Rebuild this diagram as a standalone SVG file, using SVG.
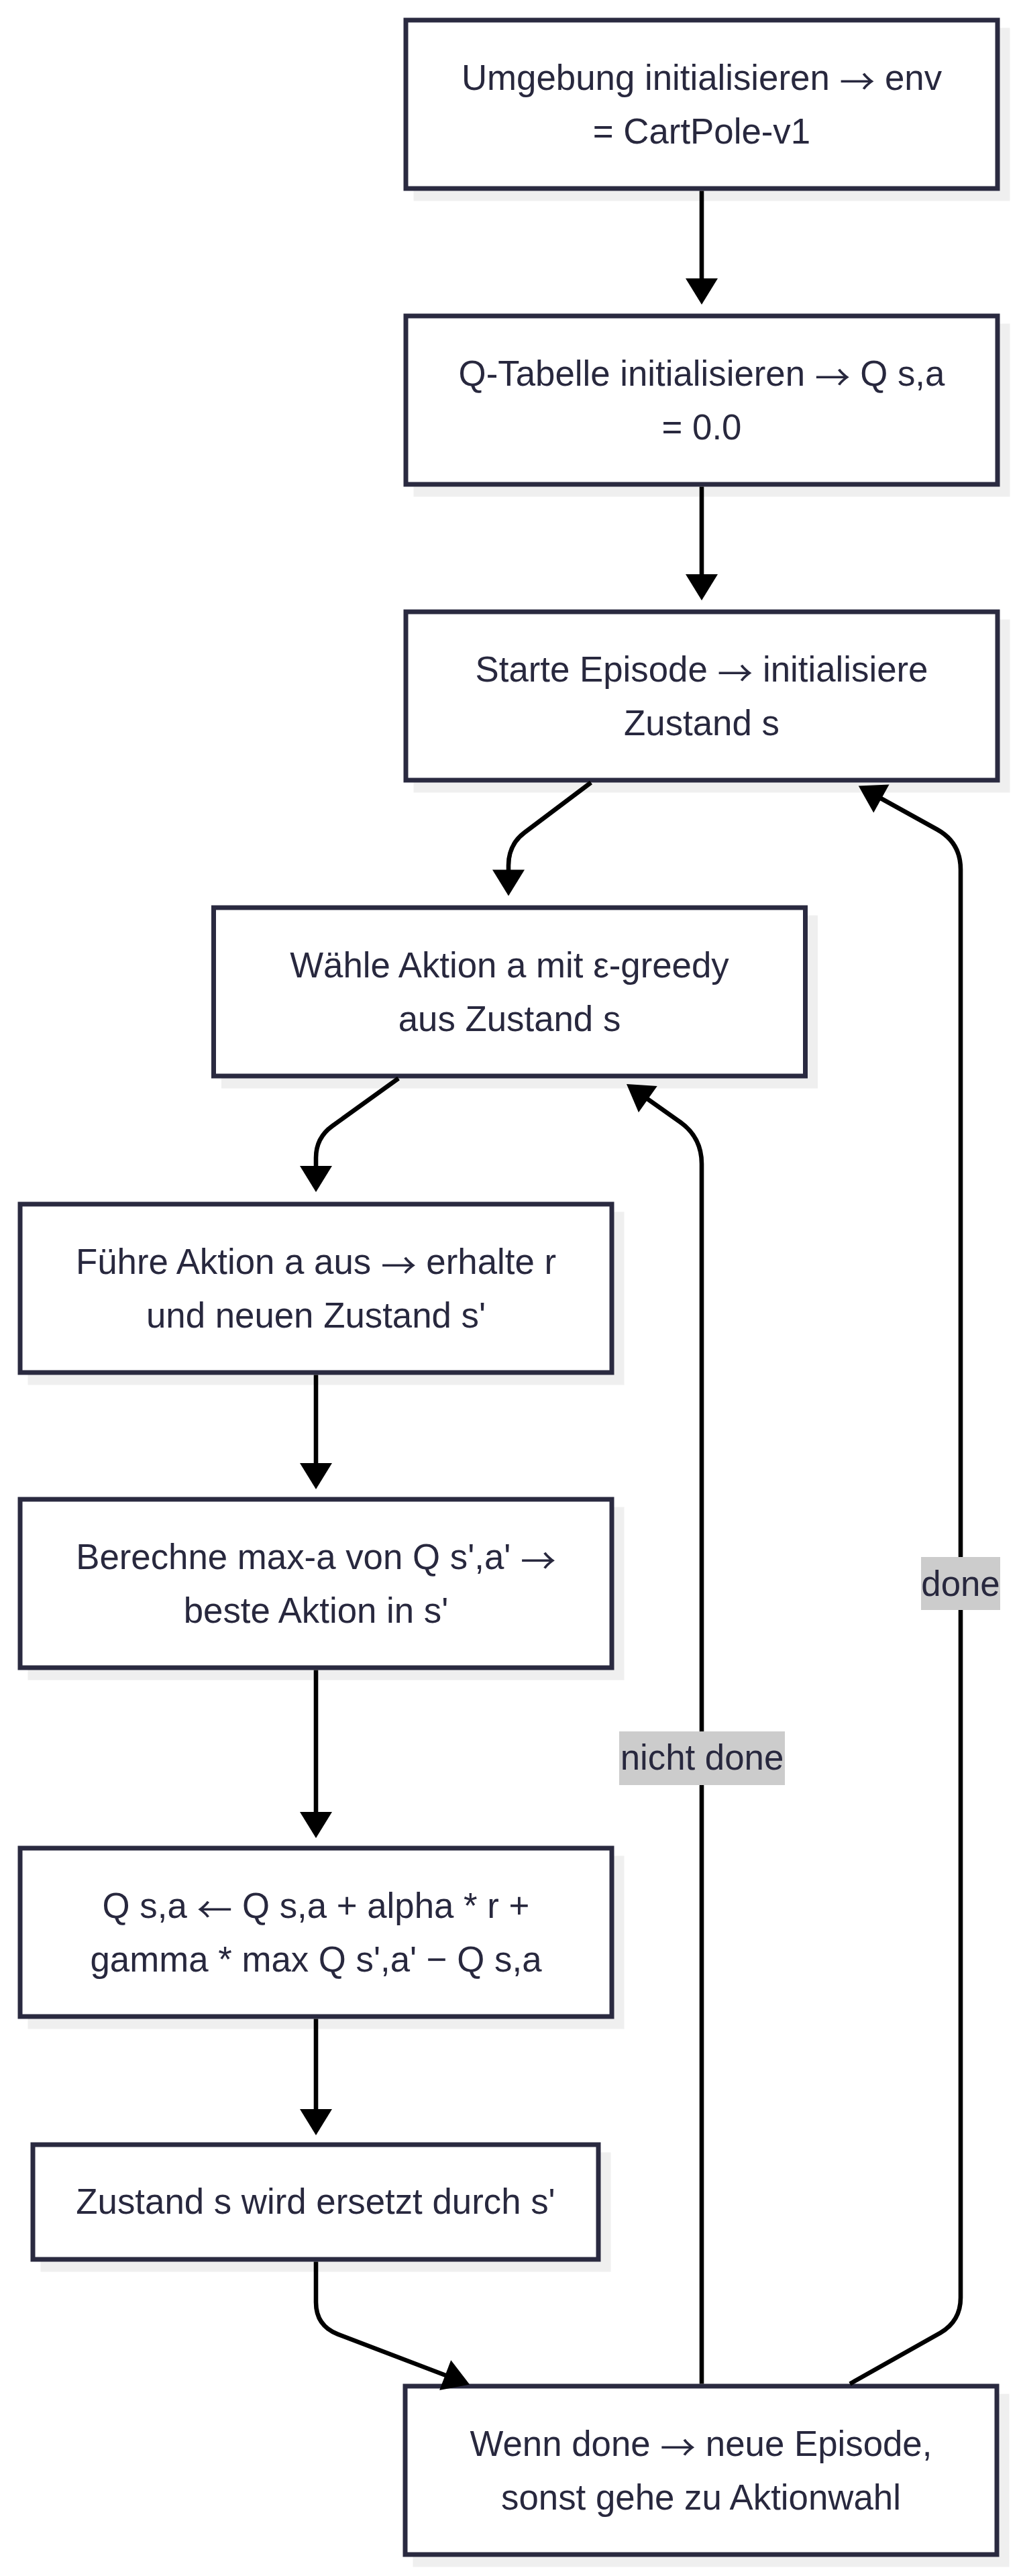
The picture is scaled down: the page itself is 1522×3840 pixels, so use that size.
<svg xmlns="http://www.w3.org/2000/svg" width="1522" height="3840" viewBox="0 0 1522 3840">
<style>
.shadow{fill:#efefef}
.box{fill:#ffffff;stroke:#2a2a40;stroke-width:7}
.t{font-family:"Liberation Sans",Arial,Helvetica,sans-serif;font-size:52.8px;fill:#28283e;text-anchor:middle}
.ar{font-family:"Noto Sans CJK JP","Noto Sans CJK SC",sans-serif;baseline-shift:-0.14em}
.edge{fill:none;stroke:#000000;stroke-width:6.6}
.elbg{fill:#cccccc}
</style>
<defs>
<marker id="arr" markerUnits="userSpaceOnUse" viewBox="0 0 39 48" markerWidth="39" markerHeight="48" refX="1" refY="24" orient="auto" overflow="visible">
<path d="M0,0 L39,24 L0,48 z" fill="#000000"/>
</marker>
</defs>
<rect width="1522" height="3840" fill="#ffffff"/>
<g id="nodes">
<g id="n1">
<rect class="shadow" x="616.5" y="41.5" width="889" height="258"/>
<rect class="box" x="605" y="30" width="882" height="251"/>
<text class="t" x="1046" y="134">Umgebung initialisieren <tspan class="ar">→</tspan> env</text>
<text class="t" x="1046" y="213.5">= CartPole-v1</text>
</g>
<g id="n2">
<rect class="shadow" x="616.5" y="482.5" width="889" height="258"/>
<rect class="box" x="605" y="471" width="882" height="251"/>
<text class="t" x="1046" y="575">Q-Tabelle initialisieren <tspan class="ar">→</tspan> Q s,a</text>
<text class="t" x="1046" y="654.5">= 0.0</text>
</g>
<g id="n3">
<rect class="shadow" x="616.5" y="923.5" width="889" height="258"/>
<rect class="box" x="605" y="912" width="882" height="251"/>
<text class="t" x="1046" y="1016">Starte Episode <tspan class="ar">→</tspan> initialisiere</text>
<text class="t" x="1046" y="1095.5">Zustand s</text>
</g>
<g id="n4">
<rect class="shadow" x="330" y="1364.5" width="889" height="258"/>
<rect class="box" x="318.5" y="1353" width="882" height="251"/>
<text class="t" x="759.5" y="1457">Wähle Aktion a mit ε-greedy</text>
<text class="t" x="759.5" y="1536.5">aus Zustand s</text>
</g>
<g id="n5">
<rect class="shadow" x="41.5" y="1806.5" width="889" height="258"/>
<rect class="box" x="30" y="1795" width="882" height="251"/>
<text class="t" x="471" y="1899">Führe Aktion a aus <tspan class="ar">→</tspan> erhalte r</text>
<text class="t" x="471" y="1978.5">und neuen Zustand s'</text>
</g>
<g id="n6">
<rect class="shadow" x="41.5" y="2246.5" width="889" height="258"/>
<rect class="box" x="30" y="2235" width="882" height="251"/>
<text class="t" x="471" y="2339">Berechne max-a von Q s',a' <tspan class="ar">→</tspan></text>
<text class="t" x="471" y="2418.5">beste Aktion in s'</text>
</g>
<g id="n7">
<rect class="shadow" x="41.5" y="2766.5" width="889" height="258"/>
<rect class="box" x="30" y="2755" width="882" height="251"/>
<text class="t" x="471" y="2859">Q s,a <tspan class="ar">←</tspan> Q s,a + alpha * r +</text>
<text class="t" x="471" y="2938.5">gamma * max Q s',a' − Q s,a</text>
</g>
<g id="n8">
<rect class="shadow" x="60.5" y="3208.5" width="850" height="178"/>
<rect class="box" x="49" y="3197" width="843" height="171"/>
<text class="t" x="470.5" y="3300">Zustand s wird ersetzt durch s'</text>
</g>
<g id="n9">
<rect class="shadow" x="615.5" y="3568.5" width="889" height="258"/>
<rect class="box" x="604" y="3557" width="882" height="251"/>
<text class="t" x="1045" y="3661">Wenn done <tspan class="ar">→</tspan> neue Episode,</text>
<text class="t" x="1045" y="3740.5">sonst gehe zu Aktionwahl</text>
</g>
</g>
<g id="edges">
<path id="e1" class="edge" marker-end="url(#arr)" d="M1046 284.5 L1046 416"/>
<path id="e2" class="edge" marker-end="url(#arr)" d="M1046 725.5 L1046 857"/>
<path id="e3" class="edge" marker-end="url(#arr)" d="M881 1166.5 L782 1241 Q758 1259 758 1290 L758 1297.5"/>
<path id="e4" class="edge" marker-end="url(#arr)" d="M594 1607.5 L495.4 1678.5 Q471 1696 471 1726 L471 1739"/>
<path id="e5" class="edge" marker-end="url(#arr)" d="M471 2049.5 L471 2182"/>
<path id="e6" class="edge" marker-end="url(#arr)" d="M471 2489.5 L471 2702"/>
<path id="e7" class="edge" marker-end="url(#arr)" d="M471 3009.5 L471 3145"/>
<path id="e8" class="edge" marker-end="url(#arr)" d="M471 3371.5 L471 3432 Q471 3467 503.7 3479.6 L664.6 3541"/>
<path id="e9" class="edge" marker-end="url(#arr)" d="M1046 3553.5 L1046 1735 Q1046 1695 1013 1672 L965 1638"/>
<path id="e10" class="edge" marker-end="url(#arr)" d="M1267 3553.5 L1401.7 3477.6 Q1432 3460 1432 3425 L1432 1296 Q1432 1256 1397 1236.5 L1313 1190"/>
</g>
<g id="edge-labels">
<g id="l9">
<rect class="elbg" x="923" y="2581" width="247" height="80"/>
<text class="t" x="1046.5" y="2638">nicht done</text>
</g>
<g id="l10">
<rect class="elbg" x="1373" y="2321" width="118" height="79"/>
<text class="t" x="1432" y="2379">done</text>
</g>
</g>
</svg>
